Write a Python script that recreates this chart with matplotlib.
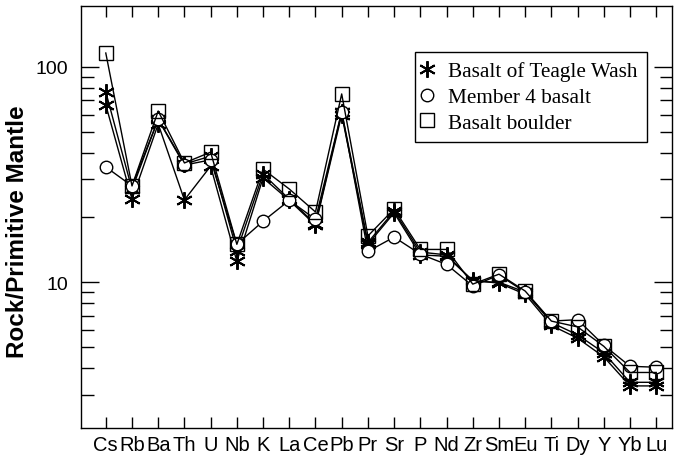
import matplotlib
matplotlib.use("Agg")
import matplotlib.pyplot as plt
from matplotlib.ticker import LogLocator, NullFormatter, FixedLocator

elements = ["Cs", "Rb", "Ba", "Th", "U", "Nb", "K", "La", "Ce", "Pb", "Pr",
            "Sr", "P", "Nd", "Zr", "Sm", "Eu", "Ti", "Dy", "Y", "Yb", "Lu"]

# basalt of Teagle Wash (two samples)
teagle_a = [76.5, 27.0, 57.3, 35.4, 38.5, 14.0, 31.8, 24.3, 18.6, 61.8, 15.3,
            21.4, 13.8, 13.4, 10.1, 10.0, 9.0, 6.5, 5.7, 4.7, 3.43, 3.43]
teagle_b = [66.6, 24.3, 54.3, 24.1, 34.6, 12.5, 30.5, 24.0, 18.4, 60.0, 15.0,
            21.0, 13.4, 13.2, 10.2, 9.9, 8.8, 6.3, 5.5, 4.5, 3.3, 3.3]
# member 4 basalt
member4 = [34.3, 28.0, 57.0, 35.0, 37.0, 15.0, 19.2, 24.0, 19.6, 62.0, 13.9,
           16.2, 13.5, 12.1, 9.6, 10.8, 9.0, 6.6, 6.7, 5.1, 4.07, 4.03]
# basalt boulder
boulder = [116, 28.0, 62.4, 35.8, 40.2, 15.0, 33.5, 27.1, 21.2, 74.9, 16.4,
           21.9, 14.2, 14.2, 9.8, 10.9, 9.1, 6.6, 6.2, 5.04, 3.81, 3.81]

plt.rcParams['font.family'] = ['Liberation Sans', 'DejaVu Sans']

fig = plt.figure(figsize=(6.74, 4.60), dpi=100)
ax = fig.add_axes([0.120, 0.067, 0.877, 0.918])

x = list(range(len(elements)))
star = (6, 2, 0)
ax.plot(x, teagle_a, color='black', lw=1, marker=star, ms=12, mew=1.4,
        label='Basalt of Teagle Wash')
ax.plot(x, teagle_b, color='black', lw=1, marker=star, ms=12, mew=1.4)
ax.plot(x, member4, color='black', lw=1, marker='o', ms=9, mfc='white',
        mec='black', mew=1, label='Member 4 basalt')
ax.plot(x, boulder, color='black', lw=1, marker='s', ms=10, mfc='none',
        mec='black', mew=1, label='Basalt boulder')

ax.set_yscale('log')
ax.set_ylim(2.1, 192)
ax.set_xlim(-0.95, 21.6)

ax.set_xticks(x)
ax.set_xticklabels(elements, fontsize=14.5)
ax.yaxis.set_major_locator(FixedLocator([10, 100]))
ax.yaxis.set_minor_locator(LogLocator(base=10, subs=range(2, 10)))
ax.yaxis.set_minor_formatter(NullFormatter())
ax.set_yticklabels(['10', '100'], fontsize=14)

ax.tick_params(axis='x', which='both', direction='in', length=8, width=1,
               top=True, pad=5)
ax.tick_params(axis='y', which='major', direction='in', length=13, width=1,
               right=True, pad=9)
ax.tick_params(axis='y', which='minor', direction='in', length=9, width=1,
               right=True)
for s in ax.spines.values():
    s.set_linewidth(1)

ax.set_ylabel('Rock/Primitive Mantle', fontsize=17.5, fontweight='bold',
              va='center')
ax.yaxis.set_label_coords(-0.108, 0.467)

leg = ax.legend(loc='upper left', bbox_to_anchor=(0.565, 0.891),
                borderaxespad=0, frameon=True, fancybox=False,
                edgecolor='black', framealpha=1,
                prop={'family': 'Liberation Serif', 'size': 15.3},
                labelspacing=0.27, handlelength=0.2, handletextpad=0.9,
                borderpad=0.45)
leg.get_frame().set_linewidth(1)
for h in leg.legend_handles:
    h.set_linestyle('none')

fig.savefig('out.png', dpi=100)
